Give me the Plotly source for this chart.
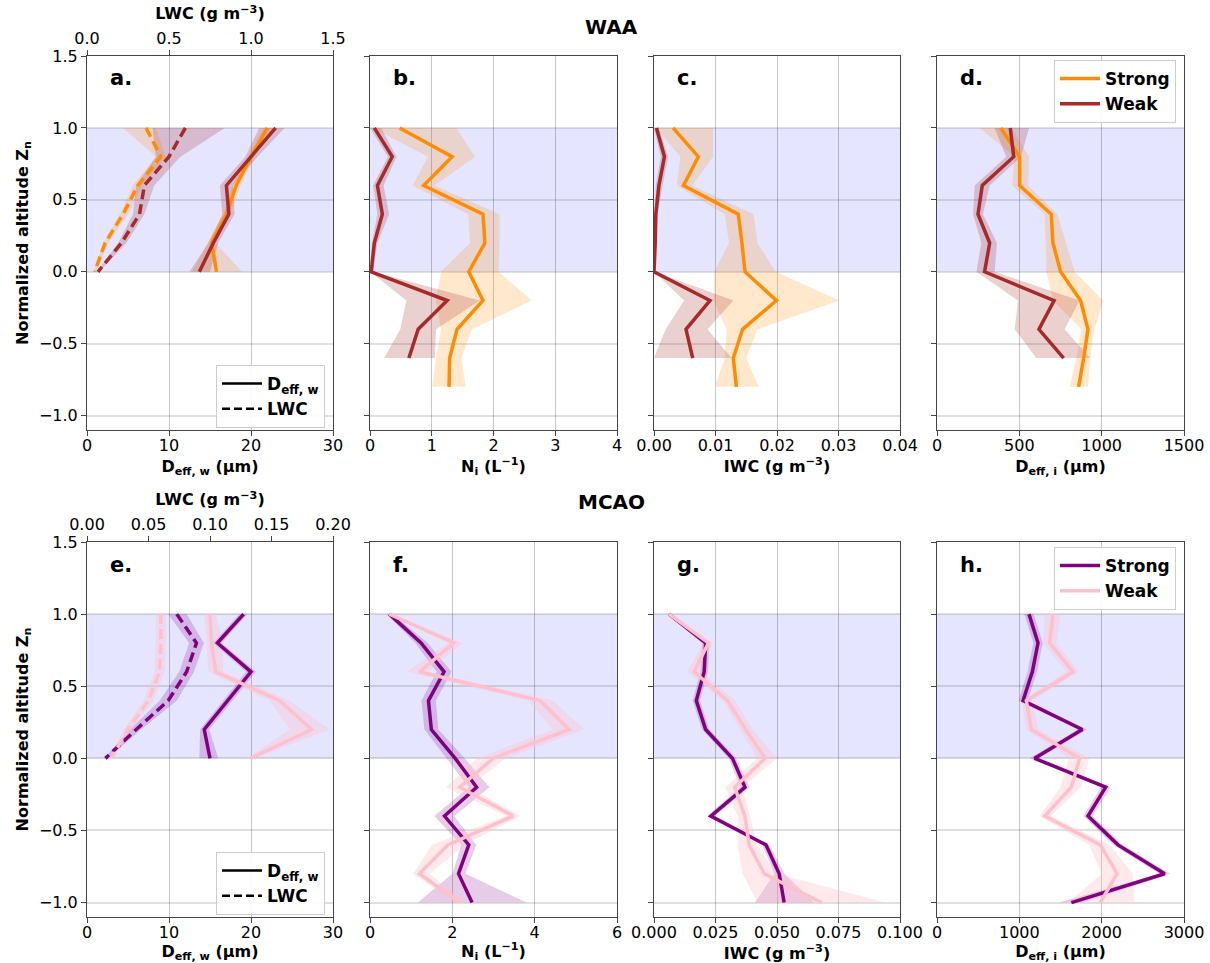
import plotly.graph_objects as go

# ---------------- DATA ----------------
z_waa_s = [1.0, 0.8, 0.6, 0.4, 0.2, 0.0, -0.2, -0.4, -0.6, -0.8]
z_waa_w = [1.0, 0.8, 0.6, 0.4, 0.2, 0.0, -0.2, -0.4, -0.6]
z_liq = [1.0, 0.8, 0.6, 0.4, 0.2, 0.0]
z_mcao = [1.0, 0.8, 0.6, 0.4, 0.2, 0.0, -0.2, -0.4, -0.6, -0.8, -1.0]

# panel a (WAA liquid)
a_deff_s = [22.0, 20.0, 18.2, 17.0, 15.2, 15.8]
a_deff_s_lo = [21.5, 19.6, 17.7, 16.6, 14.7, 12.8]
a_deff_s_hi = [22.6, 20.4, 18.7, 17.5, 15.7, 18.9]
a_deff_w = [23.0, 20.0, 17.0, 17.3, 15.4, 13.7]
a_deff_w_lo = [21.0, 19.3, 16.2, 16.5, 14.8, 12.5]
a_deff_w_hi = [24.1, 20.8, 17.8, 18.0, 16.0, 15.0]
a_lwc_s = [0.36, 0.45, 0.31, 0.22, 0.11, 0.047]
a_lwc_s_lo = [0.22, 0.42, 0.28, 0.20, 0.10, 0.040]
a_lwc_s_hi = [0.42, 0.48, 0.34, 0.25, 0.13, 0.055]
a_lwc_w = [0.60, 0.50, 0.35, 0.32, 0.21, 0.067]
a_lwc_w_lo = [0.40, 0.42, 0.30, 0.28, 0.19, 0.060]
a_lwc_w_hi = [0.84, 0.57, 0.41, 0.35, 0.24, 0.075]

# panel b (WAA Ni)
b_ni_s = [0.48, 1.33, 0.87, 1.83, 1.86, 1.60, 1.83, 1.41, 1.29, 1.28]
b_ni_s_lo = [0.05, 0.94, 0.69, 1.59, 1.62, 1.15, 1.07, 1.15, 1.07, 1.01]
b_ni_s_hi = [1.40, 1.70, 1.05, 2.10, 2.10, 2.08, 2.62, 1.65, 1.48, 1.55]
b_ni_w = [0.07, 0.36, 0.12, 0.20, 0.07, 0.02, 1.25, 0.78, 0.63]
b_ni_w_lo = [0.0, 0.29, 0.05, 0.12, 0.03, 0.0, 0.59, 0.49, 0.23]
b_ni_w_hi = [0.18, 0.43, 0.22, 0.31, 0.12, 0.05, 1.78, 1.07, 1.05]

# panel c (WAA IWC)
c_iwc_s = [0.0031, 0.0072, 0.0048, 0.0137, 0.0143, 0.0148, 0.0199, 0.0144, 0.0129, 0.0134]
c_iwc_s_lo = [0.0003, 0.0043, 0.0037, 0.0115, 0.0122, 0.0098, 0.0097, 0.0118, 0.0115, 0.0099]
c_iwc_s_hi = [0.0096, 0.0096, 0.0062, 0.0162, 0.0168, 0.0198, 0.0301, 0.0168, 0.0150, 0.0170]
c_iwc_w = [0.0004, 0.0017, 0.0008, 0.0003, 0.0002, 0.0, 0.0091, 0.0052, 0.0063]
c_iwc_w_lo = [0.0, 0.0011, 0.0003, 0.0, 0.0, 0.0, 0.0049, 0.0019, 0.0]
c_iwc_w_hi = [0.0008, 0.0023, 0.0014, 0.0006, 0.0004, 0.0001, 0.0129, 0.0087, 0.0126]

# panel d (WAA Deff,i)
d_di_s = [387, 502, 502, 694, 704, 751, 872, 917, 891, 860]
d_di_s_lo = [259, 470, 457, 654, 660, 664, 704, 877, 846, 806]
d_di_s_hi = [451, 559, 553, 731, 785, 836, 1008, 957, 931, 917]
d_di_w = [445, 466, 275, 249, 320, 289, 711, 619, 769]
d_di_w_lo = [350, 420, 229, 219, 269, 239, 492, 472, 603]
d_di_w_hi = [559, 510, 320, 279, 364, 350, 866, 775, 931]

# panel e (MCAO liquid)
e_deff_s = [19.1, 15.9, 20.0, 17.2, 14.3, 15.0]
e_deff_s_lo = [18.6, 15.4, 19.4, 16.6, 13.8, 13.7]
e_deff_s_hi = [19.6, 16.4, 20.6, 17.8, 14.9, 16.0]
e_deff_w = [15.0, 15.2, 15.7, 23.5, 27.4, 19.9]
e_deff_w_lo = [14.3, 14.6, 14.8, 22.3, 24.7, 19.6]
e_deff_w_hi = [15.7, 16.6, 16.6, 24.7, 29.6, 20.3]
e_lwc_s = [0.073, 0.089, 0.081, 0.066, 0.040, 0.015]
e_lwc_s_lo = [0.066, 0.083, 0.075, 0.059, 0.035, 0.014]
e_lwc_s_hi = [0.081, 0.095, 0.087, 0.073, 0.044, 0.017]
e_lwc_w = [0.060, 0.060, 0.059, 0.050, 0.033, 0.020]
e_lwc_w_lo = [0.056, 0.056, 0.055, 0.046, 0.030, 0.018]
e_lwc_w_hi = [0.064, 0.064, 0.063, 0.054, 0.036, 0.022]

# panel f (MCAO Ni)
f_ni_s = [0.47, 1.24, 1.80, 1.42, 1.49, 2.07, 2.59, 1.81, 2.40, 2.15, 2.48]
f_ni_s_lo = [0.40, 1.10, 1.62, 1.25, 1.32, 1.85, 2.40, 1.56, 2.22, 2.00, 1.16]
f_ni_s_hi = [0.55, 1.40, 1.98, 1.60, 1.66, 2.30, 2.90, 2.05, 2.58, 2.32, 3.80]
f_ni_w = [0.47, 2.04, 1.20, 4.13, 4.84, 2.99, 2.18, 3.48, 1.89, 1.20, 2.18]
f_ni_w_lo = [0.42, 1.90, 0.90, 3.85, 4.45, 2.60, 1.85, 3.30, 1.50, 1.05, 2.05]
f_ni_w_hi = [0.52, 2.25, 1.40, 4.45, 5.20, 3.30, 2.40, 3.65, 2.30, 1.45, 2.30]

# panel g (MCAO IWC)
g_iwc_s = [0.0061, 0.0210, 0.0204, 0.0172, 0.0210, 0.0319, 0.0370, 0.0231, 0.0455, 0.0509, 0.0529]
g_iwc_s_lo = [0.0055, 0.0195, 0.0189, 0.0157, 0.0195, 0.0304, 0.0352, 0.0216, 0.0440, 0.0490, 0.0410]
g_iwc_s_hi = [0.0068, 0.0225, 0.0219, 0.0187, 0.0225, 0.0334, 0.0388, 0.0246, 0.0470, 0.0530, 0.0650]
g_iwc_w = [0.0061, 0.0221, 0.0163, 0.0299, 0.0373, 0.0452, 0.0328, 0.0369, 0.0387, 0.0448, 0.0681]
g_iwc_w_lo = [0.0055, 0.0200, 0.0135, 0.0280, 0.0350, 0.0420, 0.0290, 0.0340, 0.0340, 0.0360, 0.0420]
g_iwc_w_hi = [0.0068, 0.0240, 0.0190, 0.0330, 0.0400, 0.0500, 0.0360, 0.0390, 0.0420, 0.0500, 0.0940]

# panel h (MCAO Deff,i)
h_di_s = [1117, 1227, 1158, 1045, 1765, 1186, 2049, 1834, 2198, 2765, 1632]
h_di_s_lo = [1060, 1170, 1100, 990, 1710, 1130, 1990, 1780, 2140, 2700, 1480]
h_di_s_hi = [1175, 1285, 1215, 1100, 1820, 1240, 2110, 1890, 2255, 2830, 1780]
h_di_w = [1409, 1368, 1652, 1085, 1146, 1733, 1632, 1308, 1984, 2186, 1984]
h_di_w_lo = [1310, 1290, 1570, 1030, 1080, 1600, 1500, 1250, 1850, 2000, 1600]
h_di_w_hi = [1500, 1450, 1720, 1150, 1230, 1850, 1750, 1380, 2100, 2380, 2400]

# tick labels
y_ticks = [-1.0, -0.5, 0.0, 0.5, 1.0, 1.5]
x_ticks = {
    1: [0, 10, 20, 30], 2: [0, 1, 2, 3, 4], 3: [0.0, 0.01, 0.02, 0.03, 0.04], 4: [0, 500, 1000, 1500],
    5: [0, 10, 20, 30], 6: [0, 2, 4, 6], 7: [0.0, 0.025, 0.05, 0.075, 0.1], 8: [0, 1000, 2000, 3000],
}
x_fmt = {1: "d", 2: "d", 3: ".2f", 4: "d", 5: "d", 6: "d", 7: ".3f", 8: "d"}
lwc_ticks_waa = [0.0, 0.5, 1.0, 1.5]
lwc_ticks_mcao = [0.0, 0.05, 0.10, 0.15, 0.20]
x_titles = {
    1: "<b>D<sub>eff, w</sub> (μm)</b>", 2: "<b>N<sub>i</sub> (L<sup>−1</sup>)</b>",
    3: "<b>IWC (g m<sup>−3</sup>)</b>", 4: "<b>D<sub>eff, i</sub> (μm)</b>",
    5: "<b>D<sub>eff, w</sub> (μm)</b>", 6: "<b>N<sub>i</sub> (L<sup>−1</sup>)</b>",
    7: "<b>IWC (g m<sup>−3</sup>)</b>", 8: "<b>D<sub>eff, i</sub> (μm)</b>",
}
letters = ["a.", "b.", "c.", "d.", "e.", "f.", "g.", "h."]

# ---------------- STYLE ----------------
FONT = "DejaVu Sans"
C_ORANGE = "#ff8c00"
C_BROWN = "#a52a2a"
C_PURPLE = "#800080"
C_PINK = "#ffc0cb"
F_ORANGE = "rgba(255,140,0,0.2)"
F_BROWN = "rgba(165,42,42,0.22)"
F_PURPLE = "rgba(128,0,128,0.2)"
F_PINK = "rgba(255,192,203,0.35)"
LW = 3.5

W, H = 1210, 963
col_x = [(87, 333), (370, 617), (654, 900), (937, 1184)]
row_y = [(56, 430), (542, 917)]

fig = go.Figure()


def ax(i):
    return ("x" if i == 1 else f"x{i}"), ("y" if i == 1 else f"y{i}")


def add_band(i, lo, hi, z, fill, xa=None):
    xr, yr = ax(i)
    fig.add_trace(go.Scatter(x=list(lo) + list(hi)[::-1], y=list(z) + list(z)[::-1],
                             fill="toself", fillcolor=fill, mode="lines", line=dict(width=0),
                             hoverinfo="skip", showlegend=False, xaxis=xa or xr, yaxis=yr))


def add_line(i, x, z, color, dash="solid", xa=None, name=None, legend=None):
    xr, yr = ax(i)
    fig.add_trace(go.Scatter(x=x, y=z, mode="lines", line=dict(color=color, width=LW, dash=dash),
                             name=name, showlegend=name is not None, legend=legend,
                             xaxis=xa or xr, yaxis=yr))


DASH = "10px,5px"

# panel a
add_band(1, a_lwc_s_lo, a_lwc_s_hi, z_liq, F_ORANGE, xa="x9")
add_band(1, a_lwc_w_lo, a_lwc_w_hi, z_liq, F_BROWN, xa="x9")
add_band(1, a_deff_s_lo, a_deff_s_hi, z_liq, F_ORANGE)
add_band(1, a_deff_w_lo, a_deff_w_hi, z_liq, F_BROWN)
add_line(1, a_lwc_s, z_liq, C_ORANGE, DASH, xa="x9")
add_line(1, a_lwc_w, z_liq, C_BROWN, DASH, xa="x9")
add_line(1, a_deff_s, z_liq, C_ORANGE)
add_line(1, a_deff_w, z_liq, C_BROWN)
# panel b
add_band(2, b_ni_s_lo, b_ni_s_hi, z_waa_s, F_ORANGE)
add_band(2, b_ni_w_lo, b_ni_w_hi, z_waa_w, F_BROWN)
add_line(2, b_ni_s, z_waa_s, C_ORANGE)
add_line(2, b_ni_w, z_waa_w, C_BROWN)
# panel c
add_band(3, c_iwc_s_lo, c_iwc_s_hi, z_waa_s, F_ORANGE)
add_band(3, c_iwc_w_lo, c_iwc_w_hi, z_waa_w, F_BROWN)
add_line(3, c_iwc_s, z_waa_s, C_ORANGE)
add_line(3, c_iwc_w, z_waa_w, C_BROWN)
# panel d
add_band(4, d_di_s_lo, d_di_s_hi, z_waa_s, F_ORANGE)
add_band(4, d_di_w_lo, d_di_w_hi, z_waa_w, F_BROWN)
add_line(4, d_di_s, z_waa_s, C_ORANGE, name="<b>Strong</b>", legend="legend")
add_line(4, d_di_w, z_waa_w, C_BROWN, name="<b>Weak</b>", legend="legend")
# panel e
add_band(5, e_lwc_s_lo, e_lwc_s_hi, z_liq, F_PURPLE, xa="x10")
add_band(5, e_lwc_w_lo, e_lwc_w_hi, z_liq, F_PINK, xa="x10")
add_band(5, e_deff_s_lo, e_deff_s_hi, z_liq, F_PURPLE)
add_band(5, e_deff_w_lo, e_deff_w_hi, z_liq, F_PINK)
add_line(5, e_lwc_s, z_liq, C_PURPLE, DASH, xa="x10")
add_line(5, e_lwc_w, z_liq, C_PINK, DASH, xa="x10")
add_line(5, e_deff_s, z_liq, C_PURPLE)
add_line(5, e_deff_w, z_liq, C_PINK)
# panel f
add_band(6, f_ni_s_lo, f_ni_s_hi, z_mcao, F_PURPLE)
add_band(6, f_ni_w_lo, f_ni_w_hi, z_mcao, F_PINK)
add_line(6, f_ni_s, z_mcao, C_PURPLE)
add_line(6, f_ni_w, z_mcao, C_PINK)
# panel g
add_band(7, g_iwc_s_lo, g_iwc_s_hi, z_mcao, F_PURPLE)
add_band(7, g_iwc_w_lo, g_iwc_w_hi, z_mcao, F_PINK)
add_line(7, g_iwc_s, z_mcao, C_PURPLE)
add_line(7, g_iwc_w, z_mcao, C_PINK)
# panel h
add_band(8, h_di_s_lo, h_di_s_hi, z_mcao, F_PURPLE)
add_band(8, h_di_w_lo, h_di_w_hi, z_mcao, F_PINK)
add_line(8, h_di_s, z_mcao, C_PURPLE, name="<b>Strong</b>", legend="legend4")
add_line(8, h_di_w, z_mcao, C_PINK, name="<b>Weak</b>", legend="legend4")

# style legends for a and e (black solid / dashed)
for lg, ya in (("legend2", "y"), ("legend3", "y5")):
    fig.add_trace(go.Scatter(x=[None], y=[None], mode="lines", line=dict(color="black", width=2.5),
                             name="<b>D<sub>eff, w</sub></b>", legend=lg, xaxis="x" if ya == "y" else "x5", yaxis=ya))
    fig.add_trace(go.Scatter(x=[None], y=[None], mode="lines", line=dict(color="black", width=2.5, dash="8px,4px"),
                             name="<b>LWC</b>", legend=lg, xaxis="x" if ya == "y" else "x5", yaxis=ya))

tickfont = dict(family=FONT, size=16, color="black")
titlefont = dict(family=FONT, size=16, color="black")
layout = dict(width=W, height=H, margin=dict(l=0, r=0, t=0, b=0, autoexpand=False),
              paper_bgcolor="white", plot_bgcolor="white", font=dict(family=FONT, color="black"),
              showlegend=True)

shapes = []
annotations = []
for i in range(1, 9):
    r = (i - 1) // 4
    c = (i - 1) % 4
    x0, x1 = col_x[c]
    yt, yb = row_y[r]
    xd = [x0 / W, x1 / W]
    yd = [1 - yb / H, 1 - yt / H]
    xname = "xaxis" if i == 1 else f"xaxis{i}"
    yname = "yaxis" if i == 1 else f"yaxis{i}"
    xt = x_ticks[i]
    fmt = x_fmt[i]
    layout[xname] = dict(domain=xd, anchor=ax(i)[1], range=[xt[0], xt[-1]], automargin=False,
                         tickvals=xt, ticktext=[format(v, fmt) if fmt != "d" else str(int(v)) for v in xt],
                         tickfont=tickfont, ticks="outside", ticklen=5, tickcolor="#444",
                         ticklabelstandoff=-4,
                         showline=True, linecolor="#444", linewidth=1, mirror=True,
                         showgrid=True, gridcolor="rgba(0,0,0,0.22)", gridwidth=1, zeroline=False,
                         title=dict(text=x_titles[i], font=titlefont, standoff=6))
    layout[yname] = dict(domain=yd, anchor=ax(i)[0], range=[-1.1, 1.5], automargin=False,
                         tickvals=y_ticks, ticktext=[f"{v:.1f}".replace("-", "−") for v in y_ticks],
                         showticklabels=(c == 0), tickfont=tickfont, ticks="outside", ticklen=5, tickcolor="#444",
                         showline=True, linecolor="#444", linewidth=1, mirror=True,
                         showgrid=True, gridcolor="rgba(0,0,0,0.12)", gridwidth=2, zeroline=False)
    if c == 0:
        layout[yname]["title"] = dict(text="<b>Normalized altitude Z<sub>n</sub></b>", font=titlefont, standoff=6)
    shapes.append(dict(type="rect", xref=f"{ax(i)[0]} domain", yref=ax(i)[1], x0=0, x1=1, y0=0, y1=1,
                       fillcolor="rgba(0,0,255,0.1)", line=dict(width=0), layer="below"))
    annotations.append(dict(text=f"<b>{letters[i-1]}</b>", xref=f"{ax(i)[0]} domain", yref=f"{ax(i)[1]} domain",
                            x=0.085, y=0.94, xanchor="left", yanchor="middle", showarrow=False,
                            font=dict(family=FONT, size=21, color="black")))

# top LWC axes
for name, base, yref, ticks, fmt, c0 in (("xaxis9", "x", "y", lwc_ticks_waa, ".1f", 0), ("xaxis10", "x5", "y5", lwc_ticks_mcao, ".2f", 1)):
    x0, x1 = col_x[0]
    layout[name] = dict(domain=[x0 / W, x1 / W], overlaying=base, anchor=yref, side="top", automargin=False,
                        range=[ticks[0], ticks[-1]], tickvals=ticks, ticktext=[format(v, fmt) for v in ticks],
                        tickfont=tickfont, ticks="outside", ticklen=5, tickcolor="#444",
                        showline=True, linecolor="#444", showgrid=False, zeroline=False,
                        title=dict(text="<b>LWC (g m<sup>−3</sup>)</b>", font=titlefont, standoff=4))

annotations.append(dict(text="<b>WAA</b>", xref="paper", yref="paper", x=611 / W, y=1 - 27 / H,
                        xanchor="center", yanchor="middle",
                        showarrow=False, font=dict(family=FONT, size=20, color="black")))
annotations.append(dict(text="<b>MCAO</b>", xref="paper", yref="paper", x=611 / W, y=1 - 502 / H,
                        xanchor="center", yanchor="middle",
                        showarrow=False, font=dict(family=FONT, size=20, color="black")))

leg_common = dict(bgcolor="rgba(255,255,255,0.9)", bordercolor="#cccccc", borderwidth=1, itemwidth=40,
                  font=dict(family=FONT, size=17, color="black"), xref="paper", yref="paper")
layout["legend"] = dict(x=1176 / W, y=1 - 60 / H, xanchor="right", yanchor="top", **leg_common)
layout["legend4"] = dict(x=1176 / W, y=1 - 547 / H, xanchor="right", yanchor="top", **leg_common)
layout["legend2"] = dict(x=325 / W, y=1 - 428 / H, xanchor="right", yanchor="bottom", **leg_common)
layout["legend3"] = dict(x=325 / W, y=1 - 915 / H, xanchor="right", yanchor="bottom", **leg_common)
layout["shapes"] = shapes
layout["annotations"] = annotations

fig.update_layout(**layout)
fig.write_html("out.html")
